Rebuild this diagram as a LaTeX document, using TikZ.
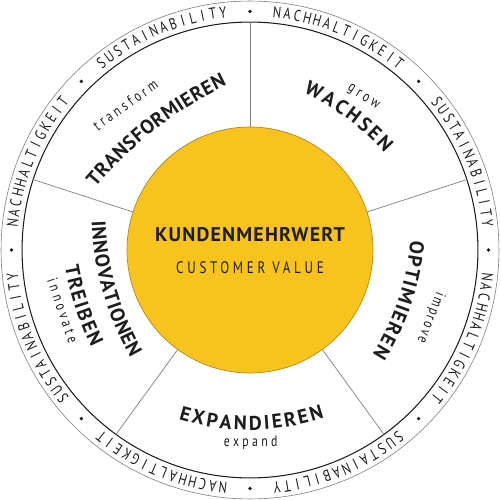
\documentclass[tikz,border=0pt]{standalone}
\usepackage{fontspec}
\setmainfont{PT Sans}
\newfontfamily\labelfont{PT Sans}[LetterSpace=6]
\newfontfamily\thinfont{PT Sans}[FakeStretch=0.78, LetterSpace=22]
\newfontfamily\ringfont{PT Sans}[FakeStretch=0.78, LetterSpace=10]
\usetikzlibrary{
  decorations.text
}
\definecolor{kvyellow}{HTML}{F9C31E}
\definecolor{kvedge}{HTML}{A88A2A}
\definecolor{kvink}{HTML}{1D1D1B}
\definecolor{kvline}{HTML}{808080}
\newcommand\bigfmt{\labelfont\bfseries\fontsize{11.3}{12}\selectfont}
\tikzset{
  disc/.style={circle, inner sep=0pt, outer sep=0pt},
  spoke/.style={draw=kvline, line width=0.4pt},
  bigchar/.style={text=kvink, font=\bigfmt, inner xsep=#1, inner ysep=0pt, anchor=base},
  ringletter/.style={font=\ringfont\fontsize{9}{9}\selectfont, text=kvink, inner sep=0pt, anchor=base},
  small/.style={font=\thinfont\fontsize{8.6}{9}\selectfont, text=kvink, inner sep=0pt, anchor=base}
}
% label on an arc, letters facing outward
\newcommand\outerarc[6][0.7pt]{%
  \begin{scope}[rotate=#2-90]
    \path[decorate, decoration={text effects along path, text={#6}, text align=center,
        text effects/.cd, text along path, characters={bigchar=#1}}]
      (0,#3-#4) ++(90+#5:#4) arc[start angle=90+#5, end angle=90-#5, radius=#4];
  \end{scope}}
% label on an arc, letters facing the centre
\newcommand\innerarc[6][0.7pt]{%
  \begin{scope}[rotate=#2+90]
    \path[decorate, decoration={text effects along path, text={#6}, text align=center,
        text effects/.cd, text along path, characters={bigchar=#1}}]
      (0,#4-#3) ++(270-#5:#4) arc[start angle=270-#5, end angle=270+#5, radius=#4];
  \end{scope}}

\begin{document}
\begin{tikzpicture}[x=0.02cm, y=0.02cm]
  \useasboundingbox (-250,-250) rectangle (250,250);
  \node[disc, draw=kvline, line width=0.35pt, minimum size=9.96cm] (rim) at (0,0) {};
  \node[disc, draw=kvink, line width=0.6pt, minimum size=9.12cm] (ring) at (0,0) {};
  \node[disc, draw=kvedge, fill=kvyellow, line width=0.4pt, minimum size=4.92cm] (core) at (0,0) {};
  \foreach \a in {90,18,-54,-126,162}
    \draw[spoke] (core.\a) -- (ring.\a);

  % ring text
  \foreach \c [count=\k] in {112.5,67.5,22.5,-22.5,-67.5,-112.5,-157.5,157.5}{
    \ifodd\k \def\w{S,U,S,T,A,I,N,A,B,I,L,I,T,Y}\else \def\w{N,A,C,H,H,A,L,T,I,G,K,E,I,T}\fi
    \foreach \ch [count=\i] in \w
      \node[ringletter, rotate=\c+(7.5-\i)*2.46-90] (ring\k-\i) at ({\c+(7.5-\i)*2.46}:233.5) {\ch};
    \fill[kvink] (\c+22.5:238.5) circle[radius=1.9];
  }

  % centre
  \node[font=\bigfmt, text=kvink, inner sep=0pt, anchor=base] (kmw) at (0,8.3) {KUNDENMEHRWERT};
  \node[font=\thinfont\fontsize{9.5}{10}\selectfont, text=kvink, inner sep=0pt, anchor=base] (cv) at (0,-23.3) {CUSTOMER VALUE};

  % segments
  \outerarc[0.15pt]{128}{153}{400}{22}{TRANSFORMIEREN}
  \outerarc{53.5}{163}{250}{25}{WACHSEN}
  \outerarc[0.4pt]{-18.5}{156.5}{250}{30}{OPTIMIEREN}
  \innerarc{-89.5}{180}{240}{30}{EXPANDIEREN}
  \innerarc[0.2pt]{196}{153}{300}{30}{INNOVATIONEN}
  \innerarc[0.5pt]{198.3}{184}{300}{25}{TREIBEN}

  \node[small, rotate=35.6] (tr) at (130.8:186) {transform};
  \node[small, rotate=-33] (gr) at (53.4:187.5) {grow};
  \node[small, rotate=-111, font=\thinfont\addfontfeature{LetterSpace=14}\fontsize{8.6}{9}\selectfont] (im) at (-20.5:189) {improve};
  \node[small] (ex) at (-89.8:197) {expand};
  \node[small, rotate=-71] (in) at (198:202) {innovate};
\end{tikzpicture}
\end{document}
